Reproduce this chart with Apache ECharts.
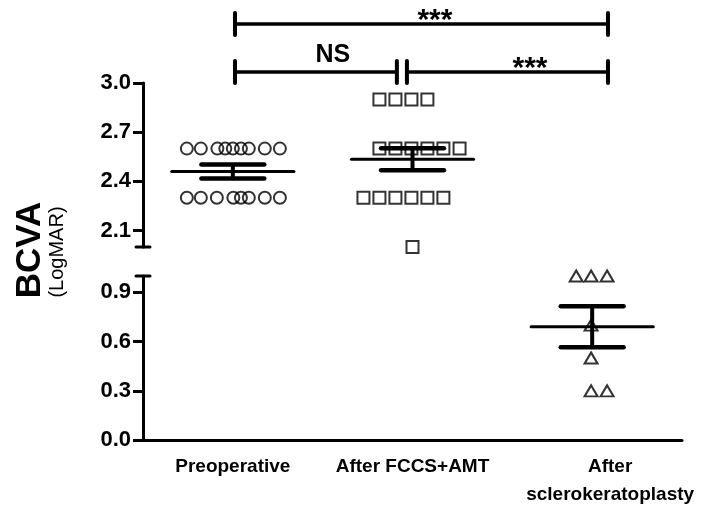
<!DOCTYPE html>
<html>
<head>
<meta charset="utf-8">
<script src="https://cdn.jsdelivr.net/npm/echarts@6/dist/echarts.min.js"></script>
<style>
html,body{margin:0;padding:0;background:#fff;}
#chart{width:703px;height:518px;}
</style>
</head>
<body>
<div id="chart"></div>
<script>
// ---- data ----
const categories = ['Preoperative', 'After FCCS+AMT', 'After\nsclerokeratoplasty'];

const preoperativeValues  = [2.6, 2.6, 2.6, 2.6, 2.6, 2.6, 2.6, 2.6, 2.6,
                             2.3, 2.3, 2.3, 2.3, 2.3, 2.3, 2.3, 2.3];
const preoperativeOffsets = [-0.256, -0.178, -0.086, -0.042, 0, 0.045, 0.089, 0.178, 0.262,
                             -0.256, -0.178, -0.089, 0.003, 0.045, 0.089, 0.178, 0.262];

const fccsValues  = [2.9, 2.9, 2.9, 2.9,
                     2.6, 2.6, 2.6, 2.6, 2.6, 2.6,
                     2.3, 2.3, 2.3, 2.3, 2.3, 2.3,
                     2.0];
const fccsOffsets = [-0.184, -0.095, -0.006, 0.083,
                     -0.184, -0.095, -0.006, 0.083, 0.172, 0.262,
                     -0.273, -0.184, -0.095, -0.006, 0.083, 0.172,
                     0];

const scleroValues  = [1.0, 1.0, 1.0, 0.7, 0.5, 0.3, 0.3];
const scleroOffsets = [-0.089, -0.006, 0.083, -0.006, -0.006, -0.006, 0.083];

const means = [2.46, 2.535, 0.69];
const sems  = [0.043, 0.067, 0.125];

const topTicks    = [2.1, 2.4, 2.7, 3.0];
const bottomTicks = [0.0, 0.3, 0.6, 0.9];
const topRange    = [2.0, 3.0];
const bottomRange = [0.0, 1.0];

// significance brackets: [x start, x end, level, label x]
const bracketStart  = [0.512, 0.512, 1.469];
const bracketEnd    = [2.588, 1.413, 2.588];
const bracketLevel  = [3.36, 3.067, 3.067];
const bracketLabelX = [1.625, 1.057, 2.154];
const bracketLabels = ['***', 'NS', '***'];

// ---- build ----
const FONT = '"Liberation Sans", Arial, sans-serif';
const centers = categories.map((_, i) => i + 0.5);
const pts = (vals, offs, g) => vals.map((v, i) => [centers[g] + offs[i], v]);
// label nudges (style only)
const labelPad = [[0, 0, 0, 0], [0, 0, 0, 0], [0, 0, 0, 36]];
const categoryItems = categories.map((c, i) => ({value: c, textStyle: {padding: labelPad[i]}}));

function renderMean(params, api) {
  const x = api.value(0), m = api.value(1), s = api.value(2);
  const c = api.coord([x, m]);
  const hi = api.coord([x, m + s]);
  const lo = api.coord([x, m - s]);
  const hm = api.size([0.34, 0])[0];
  const hc = api.size([0.175, 0])[0];
  const st = (w) => ({stroke: '#000', lineWidth: w, lineCap: 'round'});
  return {type: 'group', children: [
    {type: 'line', shape: {x1: c[0] - hm, y1: c[1], x2: c[0] + hm, y2: c[1]}, style: st(3)},
    {type: 'line', shape: {x1: c[0], y1: hi[1], x2: c[0], y2: lo[1]}, style: {stroke: '#000', lineWidth: 4}},
    {type: 'line', shape: {x1: c[0] - hc, y1: hi[1], x2: c[0] + hc, y2: hi[1]}, style: st(4.5)},
    {type: 'line', shape: {x1: c[0] - hc, y1: lo[1], x2: c[0] + hc, y2: lo[1]}, style: st(4.5)}
  ]};
}

function renderBracket(params, api) {
  const i = params.dataIndex;
  const a = api.coord([api.value(0), api.value(2)]);
  const b = api.coord([api.value(1), api.value(2)]);
  const t = api.coord([api.value(3), api.value(2)]);
  const label = bracketLabels[i];
  const isNS = label === 'NS';
  const capH = 11;
  return {type: 'group', children: [
    {type: 'line', shape: {x1: a[0], y1: a[1], x2: b[0], y2: b[1]}, style: {stroke: '#000', lineWidth: 3.5}},
    {type: 'line', shape: {x1: a[0], y1: a[1] - capH, x2: a[0], y2: a[1] + capH}, style: {stroke: '#000', lineWidth: 4, lineCap: 'round'}},
    {type: 'line', shape: {x1: b[0], y1: b[1] - capH, x2: b[0], y2: b[1] + capH}, style: {stroke: '#000', lineWidth: 4, lineCap: 'round'}},
    {type: 'text', style: {
      text: label, x: t[0], y: t[1] - (isNS ? 17 : 3),
      fill: '#000', fontFamily: FONT, fontWeight: 'bold', fontSize: isNS ? 25 : 30,
      align: 'center', verticalAlign: 'middle'
    }}
  ]};
}

function renderCap(params, api) {
  const p = api.coord([api.value(0), api.value(1)]);
  return {type: 'line', shape: {x1: p[0] - 7, y1: p[1], x2: p[0] + 7, y2: p[1]},
          style: {stroke: '#000', lineWidth: 3, lineCap: 'round'}};
}

const yAxisCommon = (gi, range, ticks) => ({
  gridIndex: gi, type: 'value', min: range[0], max: range[1],
  axisLine: {show: true, onZero: false, lineStyle: {color: '#000', width: 3}},
  axisTick: {show: true, length: 10, customValues: ticks, lineStyle: {color: '#000', width: 3}},
  axisLabel: {customValues: ticks, formatter: v => v.toFixed(1), color: '#000',
              fontFamily: FONT, fontWeight: 'bold', fontSize: 22, margin: 12},
  splitLine: {show: false}
});

const scatterStyle = {color: 'rgba(0,0,0,0)', borderColor: '#000', borderWidth: 2};

const option = {
  animation: false,
  backgroundColor: '#fff',
  grid: [
    {left: 143, width: 539, top: 83, height: 164},
    {left: 143, width: 539, top: 276, height: 164}
  ],
  xAxis: [
    {gridIndex: 1, type: 'category', data: categoryItems, boundaryGap: true,
     axisLine: {onZero: false, lineStyle: {color: '#000', width: 3}},
     axisTick: {alignWithLabel: true, interval: 0, length: 9, lineStyle: {color: '#000', width: 3}},
     axisLabel: {interval: 0, color: '#000', fontFamily: FONT, fontWeight: 'bold', fontSize: 19,
                 margin: 13, lineHeight: 28},
     splitLine: {show: false}},
    {gridIndex: 1, type: 'value', min: 0, max: 3, show: false},
    {gridIndex: 0, type: 'value', min: 0, max: 3, show: false}
  ],
  yAxis: [
    yAxisCommon(0, topRange, topTicks),
    yAxisCommon(1, bottomRange, bottomTicks)
  ],
  graphic: [
    {type: 'text', x: 30, y: 250, rotation: Math.PI / 2,
     style: {text: 'BCVA', fill: '#000', fontFamily: FONT, fontWeight: 'bold', fontSize: 35,
             align: 'center', verticalAlign: 'middle'}},
    {type: 'text', x: 57, y: 252, rotation: Math.PI / 2,
     style: {text: '(LogMAR)', fill: '#000', fontFamily: FONT, fontSize: 20,
             align: 'center', verticalAlign: 'middle'}}
  ],
  series: [
    {type: 'scatter', xAxisIndex: 2, yAxisIndex: 0, symbol: 'circle', symbolSize: 12, clip: false,
     itemStyle: scatterStyle, data: pts(preoperativeValues, preoperativeOffsets, 0), z: 2},
    {type: 'scatter', xAxisIndex: 2, yAxisIndex: 0, symbol: 'rect', symbolSize: 12, clip: false,
     itemStyle: scatterStyle, data: pts(fccsValues, fccsOffsets, 1), z: 2},
    {type: 'scatter', xAxisIndex: 1, yAxisIndex: 1, symbol: 'triangle', symbolSize: [13, 11], clip: false,
     itemStyle: scatterStyle, data: pts(scleroValues, scleroOffsets, 2), z: 2},
    {type: 'custom', xAxisIndex: 2, yAxisIndex: 0, clip: false, z: 5, renderItem: renderMean,
     data: [0, 1].map(g => [centers[g], means[g], sems[g]])},
    {type: 'custom', xAxisIndex: 1, yAxisIndex: 1, clip: false, z: 5, renderItem: renderMean,
     data: [2].map(g => [centers[g], means[g], sems[g]])},
    {type: 'custom', xAxisIndex: 2, yAxisIndex: 0, clip: false, z: 5, renderItem: renderBracket,
     data: bracketLabels.map((_, i) => [bracketStart[i], bracketEnd[i], bracketLevel[i], bracketLabelX[i]])},
    {type: 'custom', xAxisIndex: 2, yAxisIndex: 0, clip: false, z: 5, renderItem: renderCap,
     data: [[0, topRange[0]]]},
    {type: 'custom', xAxisIndex: 1, yAxisIndex: 1, clip: false, z: 5, renderItem: renderCap,
     data: [[0, bottomRange[1]]]}
  ]
};

const chart = echarts.init(document.getElementById('chart'), null, {renderer: 'canvas'});
chart.setOption(option);
</script>
</body>
</html>
